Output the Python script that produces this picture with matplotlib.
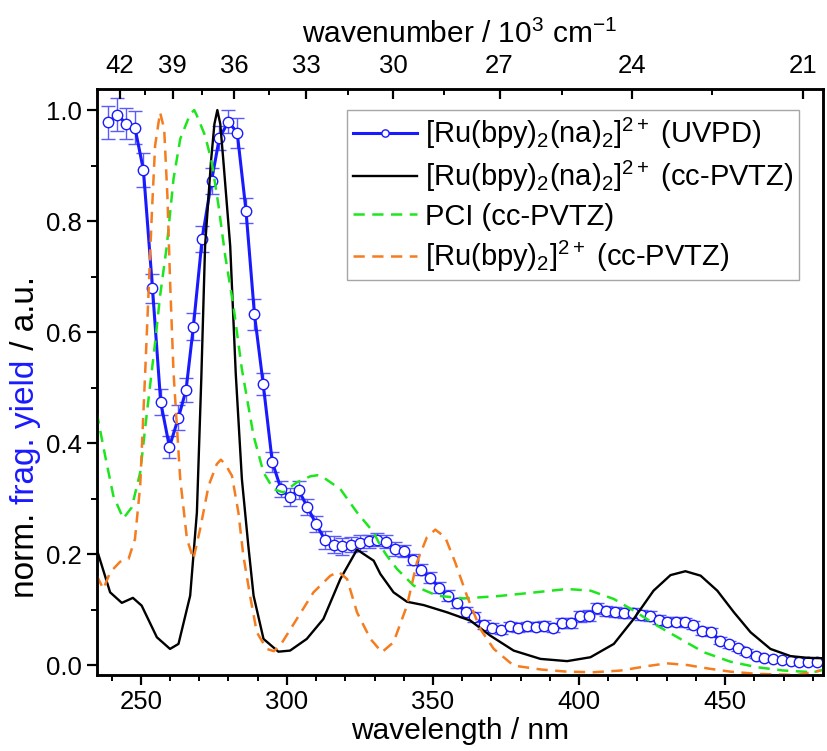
import matplotlib
matplotlib.use("Agg")
import matplotlib.pyplot as plt
from matplotlib.ticker import MultipleLocator, FormatStrFormatter, FixedLocator

plt.rcParams['font.family'] = ['Liberation Sans', 'DejaVu Sans']
plt.rcParams['mathtext.fontset'] = 'custom'
plt.rcParams['mathtext.rm'] = 'Liberation Sans'
plt.rcParams['mathtext.it'] = 'Liberation Sans:italic'
plt.rcParams['mathtext.bf'] = 'Liberation Sans:bold'

# ---------------- data ----------------
uvpd_nm = [238.9, 242.0, 245.0, 248.0, 250.9, 254.0, 256.8, 259.8, 262.9, 265.5,
           268.0, 271.0, 274.2, 276.9, 280.0, 283.0, 286.0, 288.9, 291.9, 295.0,
           298.0, 300.9, 304.0, 307.0, 310.0, 313.1, 316.1, 319.0, 322.0, 325.1,
           328.1, 330.8, 334.0, 337.1, 340.0, 343.0, 346.0, 349.1, 352.2, 355.1,
           358.2, 361.3, 364.2, 367.3, 370.2, 373.3, 376.2, 379.1, 382.2, 385.3,
           388.1, 391.1, 394.2, 397.3, 400.2, 403.3, 406.2, 409.3, 412.2, 415.3,
           418.4, 421.3, 424.2, 427.3, 430.1, 433.2, 436.1, 439.0, 442.1, 445.2,
           448.2, 451.2, 454.3, 457.3, 460.4, 463.2, 466.3, 469.3, 472.4, 475.2,
           478.3, 481.3]
uvpd_y = [0.978, 0.992, 0.975, 0.968, 0.892, 0.679, 0.474, 0.393, 0.446, 0.496,
          0.610, 0.768, 0.872, 0.950, 0.979, 0.959, 0.819, 0.632, 0.506, 0.366,
          0.317, 0.303, 0.315, 0.285, 0.254, 0.225, 0.217, 0.214, 0.217, 0.220,
          0.223, 0.226, 0.222, 0.209, 0.206, 0.190, 0.172, 0.157, 0.139, 0.125,
          0.111, 0.095, 0.086, 0.073, 0.067, 0.063, 0.070, 0.067, 0.070, 0.069,
          0.071, 0.067, 0.076, 0.076, 0.088, 0.089, 0.102, 0.097, 0.096, 0.094,
          0.093, 0.090, 0.089, 0.082, 0.078, 0.078, 0.077, 0.072, 0.061, 0.060,
          0.044, 0.037, 0.030, 0.023, 0.017, 0.012, 0.011, 0.009, 0.007, 0.006,
          0.006, 0.005]
uvpd_err = [0.030, 0.030, 0.028, 0.030, 0.031, 0.026, 0.024, 0.020, 0.022, 0.022,
            0.024, 0.024, 0.024, 0.022, 0.021, 0.027, 0.022, 0.028, 0.020, 0.018,
            0.015, 0.016, 0.016, 0.014, 0.014, 0.016, 0.016, 0.015, 0.014, 0.014,
            0.012, 0.012, 0.012, 0.012, 0.011, 0.010, 0.010, 0.010, 0.010, 0.010,
            0.009, 0.009, 0.009, 0.009, 0.008, 0.008, 0.008, 0.008, 0.008, 0.008,
            0.008, 0.008, 0.009, 0.009, 0.010, 0.010, 0.010, 0.009, 0.009, 0.009,
            0.009, 0.009, 0.009, 0.008, 0.008, 0.008, 0.008, 0.008, 0.007, 0.007,
            0.006, 0.006, 0.005, 0.005, 0.005, 0.005, 0.004, 0.004, 0.004, 0.004,
            0.004, 0.004]

calc_nm = [234.9, 239.5, 243.5, 247.3, 250.3, 255.5, 260.0, 262.9, 266.9, 269.2,
           270.7, 272.0, 274.0, 275.2, 276.2, 277.2, 278.3, 280.6, 282.5, 284.6,
           286.8, 288.6, 292.0, 297.1, 301.1, 306.8, 312.5, 318.3, 324.0, 329.7,
           332.0, 336.5, 341.1, 346.8, 354.8, 362.8, 369.6, 377.6, 386.8, 395.9,
           403.9, 411.9, 418.7, 425.5, 431.3, 436.4, 441.6, 447.3, 453.0, 458.7,
           465.5, 472.4, 478.1, 484.9]
calc_y = [0.209, 0.131, 0.112, 0.121, 0.107, 0.050, 0.029, 0.038, 0.125, 0.275,
          0.515, 0.755, 0.906, 0.975, 1.000, 0.975, 0.906, 0.755, 0.525, 0.335,
          0.215, 0.125, 0.047, 0.024, 0.026, 0.047, 0.083, 0.155, 0.208, 0.188,
          0.164, 0.131, 0.114, 0.108, 0.095, 0.080, 0.053, 0.026, 0.011, 0.007,
          0.014, 0.038, 0.083, 0.134, 0.162, 0.169, 0.161, 0.134, 0.095, 0.059,
          0.029, 0.016, 0.013, 0.012]

pci_nm = [234.9, 237.8, 240.6, 244.0, 246.9, 249.8, 252.1, 254.9, 256.6, 258.9,
          261.2, 263.5, 266.9, 268.3, 269.2, 272.0, 274.3, 276.6, 278.9, 281.7,
          284.6, 288.6, 292.0, 295.4, 298.8, 303.4, 308.0, 310.5, 312.5, 318.3,
          324.0, 329.7, 332.0, 334.2, 337.7, 343.4, 351.4, 360.5, 371.9, 383.3,
          395.9, 403.9, 411.9, 418.7, 426.7, 434.7, 442.7, 451.8, 460.9, 470.1,
          480.3, 484.0]
pci_y = [0.455, 0.377, 0.305, 0.264, 0.284, 0.347, 0.455, 0.581, 0.665, 0.755,
         0.876, 0.948, 0.993, 1.000, 0.990, 0.954, 0.906, 0.828, 0.737, 0.647,
         0.533, 0.413, 0.347, 0.317, 0.311, 0.329, 0.340, 0.342, 0.338, 0.317,
         0.275, 0.239, 0.215, 0.197, 0.173, 0.143, 0.125, 0.120, 0.124, 0.130,
         0.137, 0.134, 0.119, 0.098, 0.071, 0.047, 0.023, 0.006, -0.004, -0.010,
         -0.013, -0.008]

rubpy_nm = [234.9, 237.2, 239.5, 242.9, 245.8, 248.0, 249.8, 250.9, 251.5, 252.6,
            253.8, 254.9, 256.6, 258.0, 259.1, 260.0, 261.2, 263.5, 265.8, 268.0,
            270.3, 273.2, 276.0, 277.4, 278.9, 281.2, 283.4, 285.1, 287.4, 289.7,
            293.1, 295.5, 297.7, 303.4, 309.1, 314.9, 317.7, 320.6, 324.0, 328.6,
            332.5, 336.5, 341.1, 344.5, 347.9, 350.8, 354.2, 357.6, 361.6, 366.2,
            370.8, 377.6, 386.8, 395.9, 405.0, 414.2, 423.3, 430.1, 437.0, 443.8,
            451.8, 460.9, 474.6, 482.6]
rubpy_y = [0.161, 0.137, 0.167, 0.186, 0.191, 0.227, 0.323, 0.455, 0.527, 0.665,
           0.816, 0.936, 0.996, 0.966, 0.846, 0.695, 0.527, 0.335, 0.227, 0.191,
           0.245, 0.323, 0.362, 0.370, 0.362, 0.341, 0.275, 0.197, 0.125, 0.059,
           0.029, 0.025, 0.035, 0.083, 0.131, 0.161, 0.168, 0.155, 0.095, 0.047,
           0.023, 0.041, 0.107, 0.185, 0.230, 0.244, 0.230, 0.185, 0.125, 0.065,
           0.029, -0.001, -0.008, -0.012, -0.013, -0.010, -0.002, 0.003, 0.000, -0.006,
           -0.012, -0.016, -0.018, -0.010]

labels = [r'[Ru(bpy)$_2$(na)$_2$]$^{2+}$ (UVPD)',
          r'[Ru(bpy)$_2$(na)$_2$]$^{2+}$ (cc-PVTZ)',
          'PCI (cc-PVTZ)',
          r'[Ru(bpy)$_2$]$^{2+}$ (cc-PVTZ)']

wn_major = [42, 39, 36, 33, 30, 27, 24, 21]
wn_minor = [40.5, 37.5, 34.5, 31.5, 28.5, 25.5, 22.5]

# top-axis placement as drawn in the original (nm position of the 42 tick, scale)
TOP_NM_42 = 242.9
TOP_SCALE = 9819.0

def wn_to_pos(w):
    return TOP_NM_42 + TOP_SCALE * (1.0 / w - 1.0 / 42.0)

BLUE = '#1a1aff'
ERRBLUE = '#5a5aff'
GREEN = '#1ee61e'
ORANGE = '#f57c1f'

TICK_FS = 18.5
LABEL_FS = 21.5
LEG_FS = 21
YLAB_FS = 24

# ---------------- figure ----------------
fig = plt.figure(figsize=(8.27, 7.51), dpi=100)
ax = fig.add_axes([0.1169, 0.1012, 0.8783, 0.7803])

ax.errorbar(uvpd_nm, uvpd_y, yerr=uvpd_err, fmt='none', ecolor=ERRBLUE,
            elinewidth=1.0, capsize=5, capthick=1.0, zorder=2)
h_uv, = ax.plot(uvpd_nm, uvpd_y, '-', color=BLUE, lw=2.2, marker='o', ms=7.5,
                mfc='white', mec=BLUE, mew=1.0, zorder=3)
h_calc, = ax.plot(calc_nm, calc_y, '-', color='black', lw=1.7, zorder=4)
h_pci, = ax.plot(pci_nm, pci_y, '--', color=GREEN, lw=1.8, dashes=(4.5, 3), zorder=4)
h_rub, = ax.plot(rubpy_nm, rubpy_y, '--', color=ORANGE, lw=1.8, dashes=(4.5, 3), zorder=4)

ax.set_xlim(234.9, 483.5)
ax.set_ylim(-0.018, 1.038)

ax.xaxis.set_major_locator(MultipleLocator(50))
ax.xaxis.set_minor_locator(MultipleLocator(10))
ax.yaxis.set_major_locator(MultipleLocator(0.2))
ax.yaxis.set_minor_locator(MultipleLocator(0.1))
ax.yaxis.set_major_formatter(FormatStrFormatter('%.1f'))

for s in ax.spines.values():
    s.set_linewidth(1.8)

ax.tick_params(axis='both', which='major', direction='out', length=7, width=1.6,
               labelsize=TICK_FS, pad=4, top=False, right=False)
ax.tick_params(axis='both', which='minor', direction='out', length=4, width=1.4,
               top=False, right=False)

ax.set_xlabel('wavelength / nm', fontsize=LABEL_FS, labelpad=2)

# top axis
ax2 = ax.twiny()
ax2.set_xlim(ax.get_xlim())
ax2.xaxis.set_major_locator(FixedLocator([wn_to_pos(w) for w in wn_major]))
ax2.xaxis.set_minor_locator(FixedLocator([wn_to_pos(w) for w in wn_minor]))
ax2.set_xticklabels([str(w) for w in wn_major])
ax2.tick_params(axis='x', which='major', direction='in', length=7, width=1.6,
                labelsize=TICK_FS, pad=8)
ax2.tick_params(axis='x', which='minor', direction='in', length=4, width=1.4)
ax2.set_xlabel(r'wavenumber / 10$^3$ cm$^{-1}$', fontsize=LABEL_FS, labelpad=8)
for s in ax2.spines.values():
    s.set_linewidth(1.8)

# legend
leg = ax.legend([h_uv, h_calc, h_pci, h_rub], labels, loc='upper right',
                bbox_to_anchor=(0.967, 0.964), borderaxespad=0, fontsize=LEG_FS,
                frameon=True, fancybox=False, edgecolor='#909090',
                handlelength=2.2, handletextpad=0.25, borderpad=0.2,
                labelspacing=0.28, markerscale=0.7)
leg.get_frame().set_linewidth(1.0)

# multicolour y label
fig.canvas.draw()
renderer = fig.canvas.get_renderer()
ylab_x = 0.031
ylab_center = 0.418
t1 = fig.text(ylab_x, 0.3, 'norm. ', rotation=90, fontsize=YLAB_FS,
              ha='center', va='bottom')
t2 = fig.text(0, 0, 'frag. yield', rotation=90, fontsize=YLAB_FS, color=BLUE,
              ha='center', va='bottom')
t3 = fig.text(0, 0, ' / a.u.', rotation=90, fontsize=YLAB_FS,
              ha='center', va='bottom')
h1 = t1.get_window_extent(renderer).height
h2 = t2.get_window_extent(renderer).height
h3 = t3.get_window_extent(renderer).height
total = (h1 + h2 + h3) / fig.bbox.height
ystart = ylab_center - total / 2
t1.set_position((ylab_x, ystart))
t2.set_position((ylab_x, ystart + h1 / fig.bbox.height))
t3.set_position((ylab_x, ystart + (h1 + h2) / fig.bbox.height))

fig.savefig('out.png', dpi=100)
